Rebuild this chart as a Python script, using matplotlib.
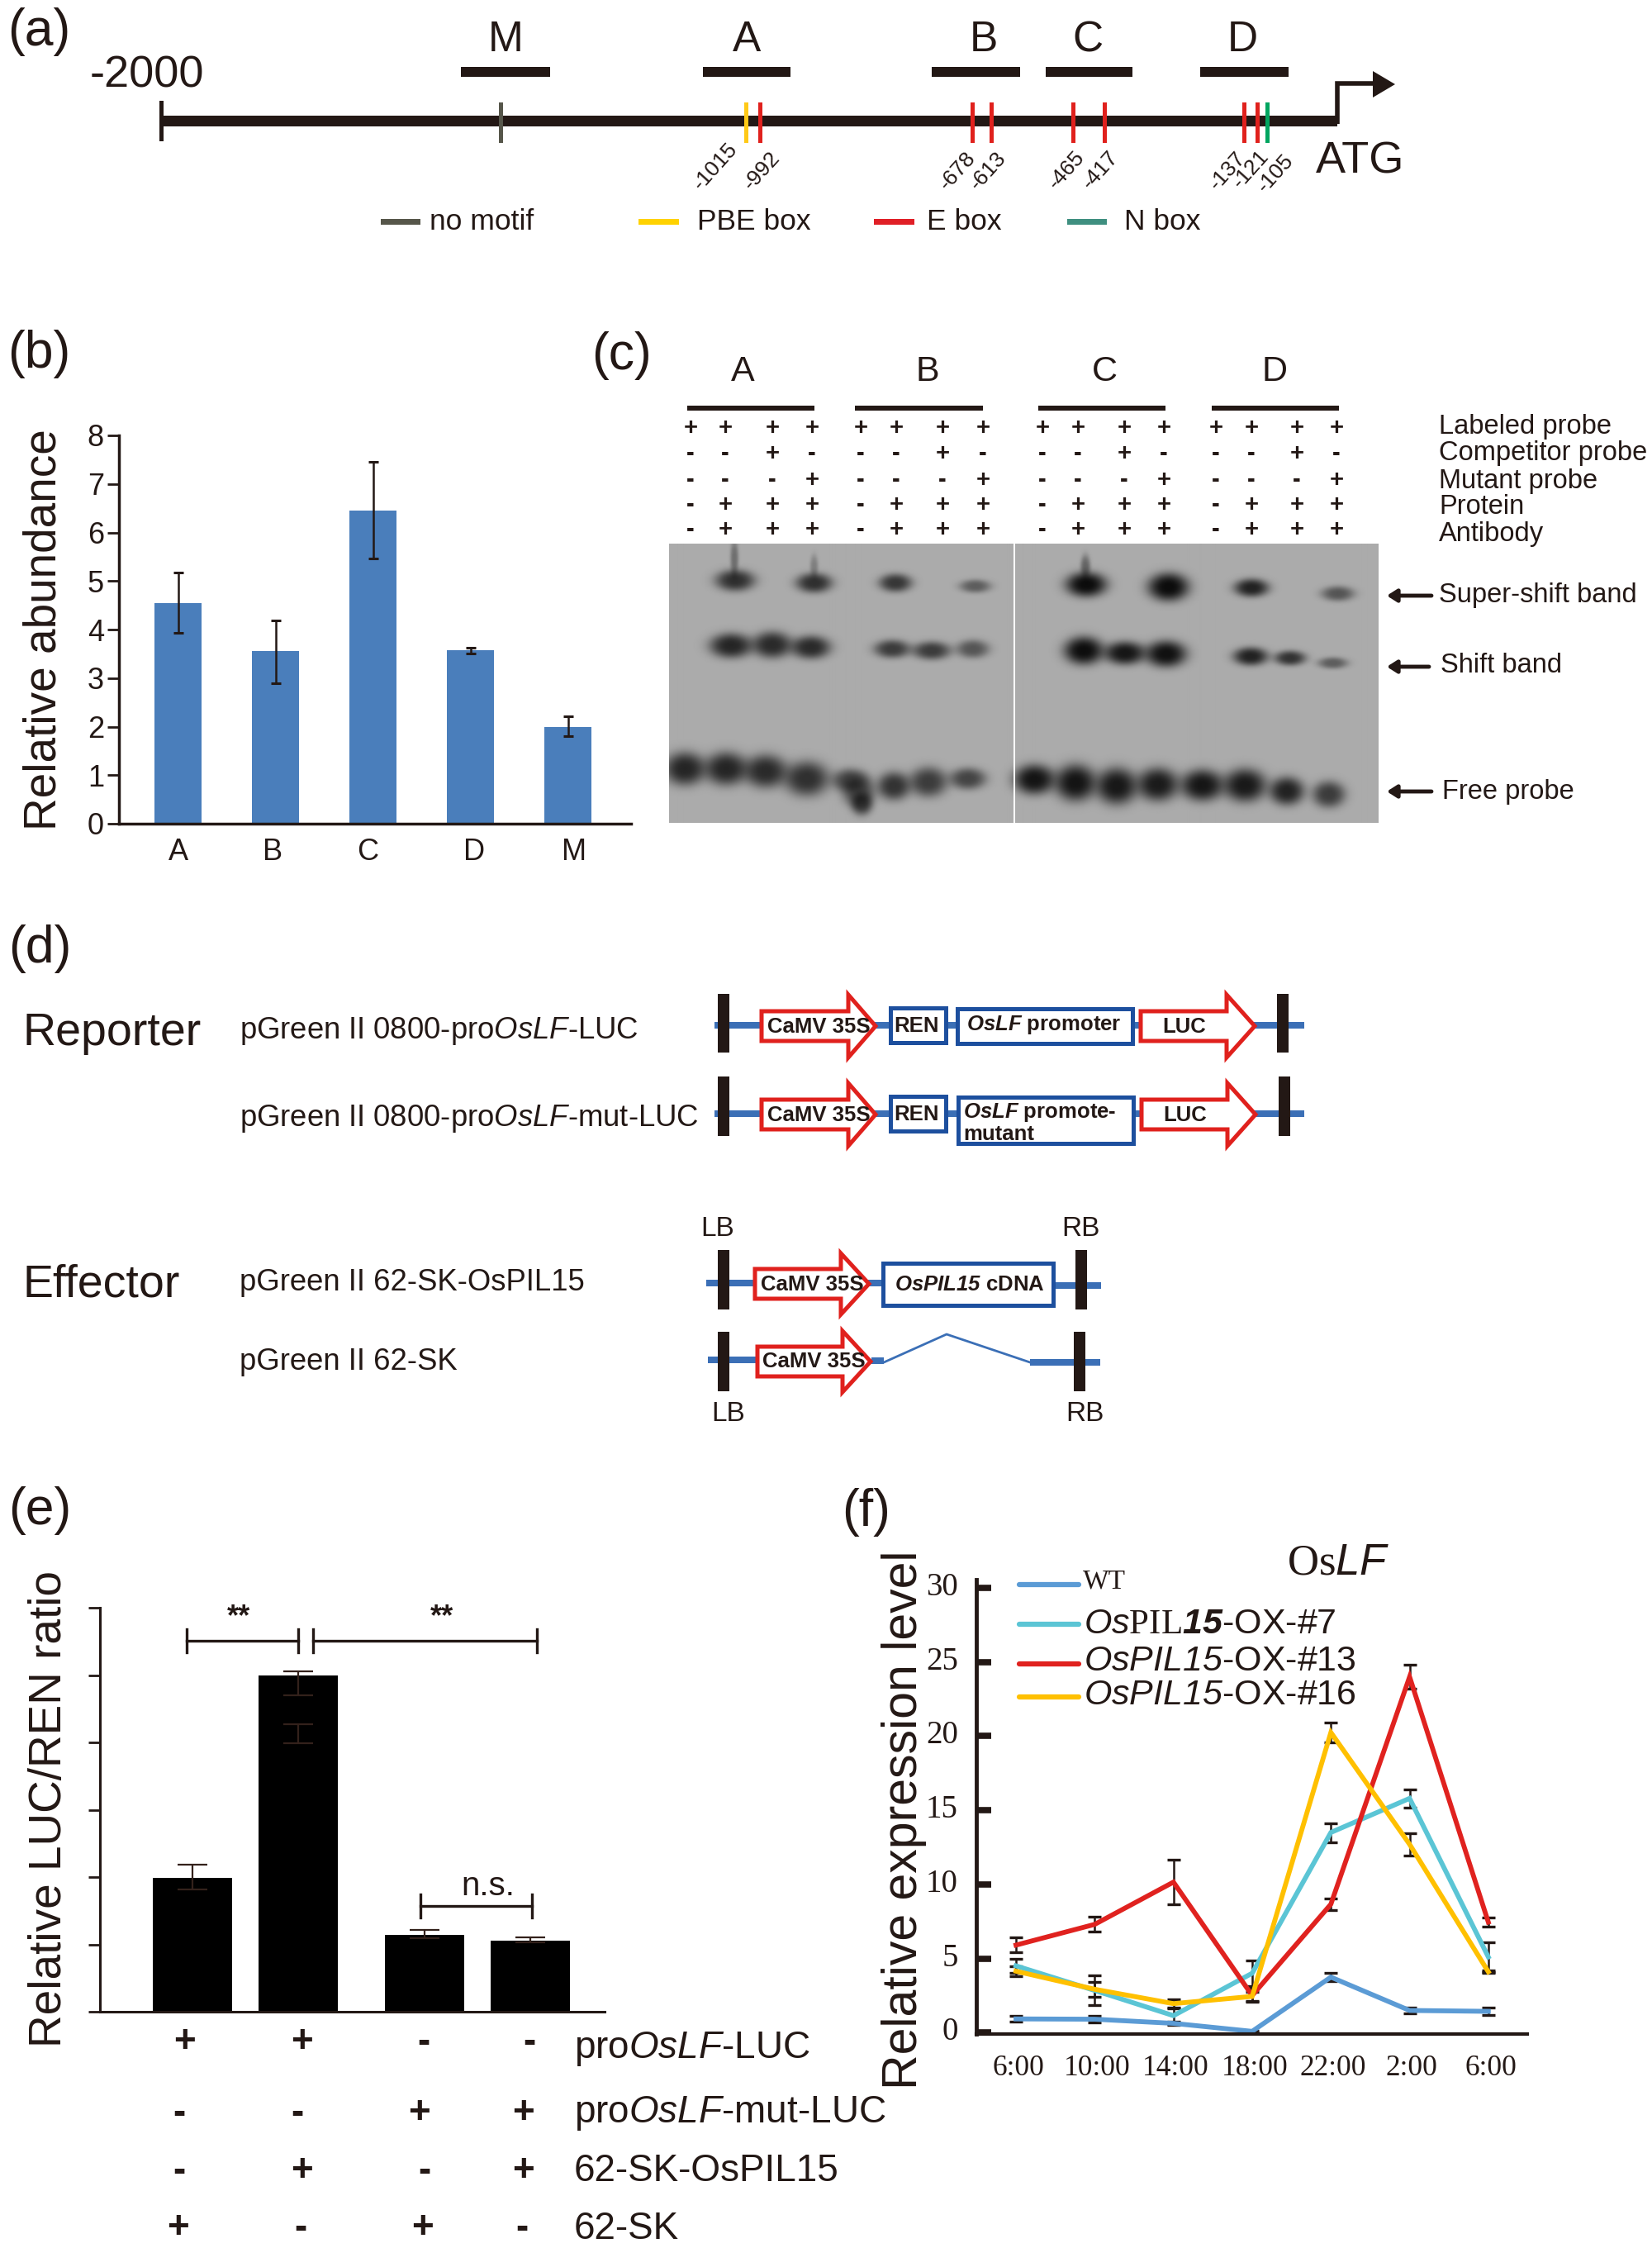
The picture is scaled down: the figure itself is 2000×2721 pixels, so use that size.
import numpy as np
import matplotlib
matplotlib.use('Agg')
import matplotlib.pyplot as plt
from matplotlib.patches import Rectangle, Polygon
from matplotlib.transforms import ScaledTranslation

plt.rcParams['font.family'] = ['Liberation Sans', 'DejaVu Sans']
plt.rcParams['mathtext.fontset'] = 'custom'
plt.rcParams['mathtext.rm'] = 'Liberation Sans'
plt.rcParams['mathtext.it'] = 'Liberation Sans:italic'
plt.rcParams['mathtext.bf'] = 'Liberation Sans:italic:bold'
plt.rcParams['mathtext.sf'] = 'Liberation Sans:italic'
plt.rcParams['mathtext.tt'] = 'Liberation Serif'

W, H = 2000, 2721
DARK = '#231815'
BLUE = '#3b6fb6'
FRAME_BLUE = '#1d4f9e'
RED = '#e0211d'

# (b) abundance
b_cats = ['A', 'B', 'C', 'D', 'M']
b_vals = [4.55, 3.55, 6.45, 3.57, 2.0]
b_err_low = [0.61, 0.65, 0.98, 0.06, 0.2]
b_err_high = [0.62, 0.64, 1.0, 0.06, 0.22]

# (e) LUC/REN
e_vals = [1.99, 5.0, 1.14, 1.05]
e_err_mid = [2.0, 4.88, 1.15, 1.07]
e_err = [0.19, 0.18, 0.06, 0.04]

# (f) expression time course
f_times = ['6:00', '10:00', '14:00', '18:00', '22:00', '2:00', '6:00']
f_wt = [0.92, 0.9, 0.62, 0.08, 3.74, 1.49, 1.43]
f_ox7 = [4.5, 2.84, 1.14, 4.0, 13.5, 15.8, 5.1]
f_ox13 = [5.9, 7.3, 10.15, 2.5, 8.66, 24.0, 7.45]
f_ox16 = [4.14, 2.92, 1.95, 2.44, 20.25, 12.7, 4.1]
f_wt_err = [0.2, 0.2, 0.1, 0.05, 0.3, 0.2, 0.25]
f_ox7_err = [0.5, 1.0, 0.55, 0.85, 0.64, 0.6, 1.0]
f_ox13_err = [0.5, 0.5, 1.5, 0.45, 0.4, 0.8, 0.3]
f_ox16_err = [0.35, 0.5, 0.3, 0.3, 0.65, 0.75, 0.1]

# (a) promoter map
a_fragments = ['M', 'A', 'B', 'C', 'D']
a_sites = ['-1015', '-992', '-678', '-613', '-465', '-417', '-137', '-121', '-105']
a_legend = ['no motif', 'PBE box', 'E box', 'N box']

# (c) gel: x, y, half width, half height, darkness
gel_bands = [
    (890, 702, 24, 13, 0.72), (889, 675, 5, 22, 0.35), (986, 705, 22, 12, 0.72), (986, 685, 5, 14, 0.25),
    (1085, 705, 20, 11, 0.68), (1182, 709, 19, 8, 0.45),
    (1317, 707, 25, 15, 0.93), (1316, 685, 6, 14, 0.4), (1417, 710, 25, 17, 0.93), (1518, 711, 21, 11, 0.8),
    (1623, 718, 20, 9, 0.5),
    (885, 781, 26, 15, 0.78), (935, 780, 24, 16, 0.75), (982, 783, 24, 14, 0.75),
    (1081, 785, 22, 11, 0.65), (1129, 787, 23, 11, 0.65), (1179, 785, 20, 11, 0.5),
    (1314, 787, 24, 17, 0.92), (1364, 790, 25, 14, 0.87), (1414, 791, 25, 16, 0.9),
    (1517, 794, 21, 11, 0.8), (1565, 796, 19, 9, 0.7), (1617, 802, 18, 7, 0.45),
    (829, 930, 25, 20, 0.78), (879, 930, 26, 20, 0.78), (927, 933, 26, 20, 0.75), (977, 942, 27, 21, 0.72),
    (1030, 944, 22, 14, 0.6), (1040, 958, 20, 18, 0.55), (1044, 972, 13, 14, 0.65), (1083, 951, 20, 17, 0.7),
    (1125, 946, 23, 18, 0.65), (1173, 942, 22, 13, 0.6),
    (1254, 943, 25, 18, 0.88), (1304, 947, 25, 22, 0.88), (1354, 951, 25, 22, 0.86), (1404, 949, 25, 20, 0.84),
    (1458, 950, 26, 19, 0.87), (1510, 950, 26, 20, 0.85), (1561, 957, 21, 17, 0.8), (1612, 961, 20, 16, 0.65),
]
gel_rows = ['Labeled probe', 'Competitor probe', 'Mutant probe', 'Protein', 'Antibody']
gel_signs = ['++++', '--+-', '---+', '-+++', '-+++']
e_rows = ['pro$\\mathit{OsLF}$-LUC', 'pro$\\mathit{OsLF}$-mut-LUC', '62-SK-OsPIL15', '62-SK']
e_signs = ['++--', '--++', '-+-+', '+-+-']


def px_axes(fig, x0, y0, x1, y1):
    # y0 top, y1 bottom, both in image pixels
    return fig.add_axes([x0 / W, 1 - y1 / H, (x1 - x0) / W, (y1 - y0) / H])


fig = plt.figure(figsize=(20, 27.21), dpi=100)

# ---- panel b
ax = px_axes(fig, 144, 527, 764, 997)
ax.bar(np.arange(5), b_vals, width=0.49, color='#4a7ebb')
ax.errorbar(np.arange(5), b_vals, yerr=[b_err_low, b_err_high], fmt='none', ecolor=DARK,
            elinewidth=1.8, capsize=4, capthick=2.2)
ax.set_xlim(-0.606, 4.648)
ax.set_ylim(0, 8)
ax.set_xticks([0, -0.03, -0.05, 0.04, 0.06] + np.arange(5), b_cats)
ax.set_yticks(range(9))
ax.tick_params(axis='x', length=0, labelsize=26, pad=12, labelcolor=DARK)
ax.tick_params(axis='y', length=10, width=2, labelsize=26, pad=3, labelcolor=DARK, color=DARK)
for s in ['top', 'right']:
    ax.spines[s].set_visible(False)
for s in ['left', 'bottom']:
    ax.spines[s].set_linewidth(2.5)
    ax.spines[s].set_color(DARK)
ax.patch.set_alpha(0)

# ---- panel e
e_pos = np.array([0, 1, 2.2, 3.2])
ax = px_axes(fig, 121, 1946, 732, 2435)
ax.bar(e_pos, e_vals, width=0.75, color='black')
ax.errorbar(e_pos, e_err_mid, yerr=e_err, fmt='none', ecolor='#33211b', elinewidth=1.6, capsize=13, capthick=1.6)
ax.errorbar([1], [4.13], yerr=[0.14], fmt='none', ecolor='#33211b', elinewidth=1.6, capsize=13, capthick=1.6)
ax.set_xlim(-0.875, 3.9)
ax.set_ylim(0, 6)
ax.set_xticks([])
ax.set_yticks(range(7))
ax.set_yticklabels([])
ax.tick_params(axis='y', length=10, width=2, color=DARK)
for s in ['top', 'right']:
    ax.spines[s].set_visible(False)
for s in ['left', 'bottom']:
    ax.spines[s].set_linewidth(2.2)
    ax.spines[s].set_color(DARK)
ax.patch.set_alpha(0)

# ---- panel f
ax = px_axes(fig, 1182, 1912, 1849, 2462)
x = np.arange(7)
series = [(f_wt, f_wt_err, '#5b9bd5'), (f_ox7, f_ox7_err, '#5bc5d5'),
          (f_ox13, f_ox13_err, '#e0221f'), (f_ox16, f_ox16_err, '#ffc000')]
for vals, err, col in series:
    ax.errorbar(x, vals, yerr=err, fmt='none', ecolor=DARK, elinewidth=1.8, capsize=6, capthick=2.4)
for vals, err, col in series:
    ax.plot(x, vals, color=col, lw=4.2, solid_joinstyle='miter')
ax.set_xlim(-0.504, 6.495)
ax.set_ylim(-0.1, 30.56)
ax.set_yticks(range(0, 31, 5))
ax.set_xticks(x + 0.03, f_times, family='Liberation Serif')
ax.set_yticklabels([str(v) for v in range(0, 31, 5)], family='Liberation Serif')
ax.tick_params(axis='x', length=0, labelsize=25.5, pad=18, labelcolor=DARK)
ax.tick_params(axis='y', direction='in', length=13, width=5.5, labelsize=28, pad=16, labelcolor=DARK, color=DARK)
for lab in ax.get_yticklabels():
    lab.set_transform(lab.get_transform() + ScaledTranslation(0, 5 / 100, fig.dpi_scale_trans))
for s in ['top', 'right']:
    ax.spines[s].set_visible(False)
ax.spines['left'].set_linewidth(3.5)
ax.spines['bottom'].set_linewidth(3)
ax.spines['left'].set_color(DARK)
ax.spines['bottom'].set_color(DARK)
ax.patch.set_alpha(0)

# ---- overlay in image pixels for diagrams and labels
ov = fig.add_axes([0, 0, 1, 1])
ov.set_xlim(0, W)
ov.set_ylim(H, 0)
ov.axis('off')
ov.patch.set_alpha(0)


def txt(x, y, s, size, ha='center', va='center', **kw):
    kw.setdefault('color', DARK)
    ov.text(x, y, s, fontsize=size, ha=ha, va=va, **kw)


def box(x0, y0, x1, y1, color=DARK):
    ov.add_patch(Rectangle((x0, y0), x1 - x0, y1 - y0, facecolor=color, edgecolor='none'))


def frame(x0, y0, x1, y1, color=FRAME_BLUE, lw=3.6):
    ov.add_patch(Rectangle((x0, y0), x1 - x0, y1 - y0, facecolor='white', edgecolor=color, lw=lw, zorder=3))


def red_arrow(x0, xh, x1, ym, body, head):
    pts = [(x0, ym - body), (xh, ym - body), (xh, ym - head), (x1, ym), (xh, ym + head), (xh, ym + body), (x0, ym + body)]
    ov.add_patch(Polygon(pts, closed=True, facecolor='white', edgecolor=RED, lw=3.6, zorder=3, joinstyle='miter'))


def left_arrow(x0, x1, y):
    ov.annotate('', xy=(x0, y), xytext=(x1, y),
                arrowprops=dict(arrowstyle='-|>,head_width=0.45,head_length=0.7', lw=3.5, color=DARK, shrinkA=0, shrinkB=0))


for lab, lx, ly in [('(a)', 47, 38), ('(b)', 47, 428), ('(c)', 752, 430), ('(d)', 48, 1148), ('(e)', 48, 1829), ('(f)', 1049, 1830)]:
    txt(lx, ly, lab, 45)

# ---- panel a
box(195, 140, 1619, 153)
box(193, 122, 198, 171)
ov.plot([1619, 1619, 1663], [150, 101, 101], color=DARK, lw=4, solid_joinstyle='miter', solid_capstyle='butt')
ov.add_patch(Polygon([(1662, 86), (1689, 102), (1662, 118)], closed=True, facecolor=DARK, edgecolor='none'))
txt(178, 91, '-2000', 39)
txt(1647, 196, 'ATG', 39)
frag_x = [(558, 666), (851, 957), (1128, 1235), (1266, 1371), (1453, 1560)]
frag_lab = [612, 904, 1191, 1317, 1504]
for name, (x0, x1), lx in zip(a_fragments, frag_x, frag_lab):
    box(x0, 81, x1, 93)
    txt(lx, 49, name, 37)
site_x = [(606, '#56564a'), (903, '#ffc917'), (920, RED), (1177, RED), (1200, RED), (1299, RED), (1337, RED),
          (1506, RED), (1522, RED), (1534, '#00a560')]
for sx, col in site_x:
    box(sx - 2.5, 124, sx + 2.5, 173, col)
site_lab = [(866, 201), (922, 207), (1159, 207), (1196, 207), (1291, 206), (1332, 206), (1486, 207), (1514, 205), (1544, 210)]
for name, (lx, ly) in zip(a_sites, site_lab):
    txt(lx, ly, name, 19, rotation=48)
leg_x = [(461, 509, 520, '#56564a'), (773, 822, 844, '#ffd200'), (1058, 1107, 1122, '#e01f26'), (1292, 1340, 1361, '#3f8f80')]
for name, (x0, x1, tx, col) in zip(a_legend, leg_x):
    box(x0, 265, x1, 272, col)
    txt(tx, 269, name, 25.5, ha='left')

# ---- panel b, c labels
txt(54, 762, 'Relative abundance', 39.5, rotation=90)
for name, x0, x1, lx in [('A', 832, 986, 899), ('B', 1035, 1190, 1123), ('C', 1257, 1411, 1337), ('D', 1467, 1621, 1543)]:
    box(x0, 491, x1, 497)
    txt(lx, 450, name, 31)
lanes = [836, 878, 935, 983, 1042, 1085, 1141, 1190, 1262, 1305, 1361, 1409, 1472, 1515, 1570, 1618]
row_y = [518, 549, 581, 611, 641]
for sign, ry in zip(gel_signs, row_y):
    for i, lx in enumerate(lanes):
        txt(lx, ry, sign[i % 4], 21, fontweight='bold')
for name, ty in zip(gel_rows, [517, 549, 583, 614, 647]):
    txt(1742, ty, name, 23.5, ha='left')

xg = np.arange(810, 1673)
yg = np.arange(658, 996)
X, Y = np.meshgrid(xg, yg)
gel = np.ones_like(X, dtype=float)
for bx, by, rx, ry, d in gel_bands:
    r2 = ((X - bx) / rx) ** 2 + ((Y - by) / ry) ** 2
    gel *= 1 - d * np.exp(-r2 ** 1.5)
ov.imshow(gel * 171, cmap='gray', vmin=0, vmax=255, extent=(809.5, 1668, 996, 658), aspect='auto', interpolation='bilinear')
ov.set_xlim(0, W)
ov.set_ylim(H, 0)
box(1226.5, 658, 1228.5, 996, 'white')

left_arrow(1679, 1733, 721)
left_arrow(1679, 1730, 807)
left_arrow(1679, 1733, 958)
txt(1742, 721, 'Super-shift band', 23.5, ha='left')
txt(1744, 805, 'Shift band', 23.5, ha='left')
txt(1746, 959, 'Free probe', 23.5, ha='left')

# ---- panel d
txt(28, 1251, 'Reporter', 40, ha='left')
txt(28, 1555, 'Effector', 40, ha='left')
plasmids = [('pGreen II 0800-pro$\\mathit{OsLF}$-LUC', 1248), ('pGreen II 0800-pro$\\mathit{OsLF}$-mut-LUC', 1354),
            ('pGreen II 62-SK-OsPIL15', 1552), ('pGreen II 62-SK', 1649)]
for name, ty in plasmids:
    txt(290, ty, name, 26.3, ha='left')

for ym, top, bot, rb, luc_x in [(1241, 1203, 1274, 1553, 1381), (1348, 1303, 1375, 1555, 1382)]:
    box(865, ym - 4, 1579, ym + 4, BLUE)
    box(869, top, 883, bot)
    box(rb - 7, top, rb + 7, bot)
    red_arrow(922, 1027, 1060, ym + 1, 18, 38)
    red_arrow(luc_x, luc_x + 104, luc_x + 138, ym + 1, 18, 38)
    txt(991, ym + 2, 'CaMV 35S', 18.5, fontweight='bold', zorder=5)
    txt(1110, ym + 1, 'REN', 18.5, fontweight='bold', zorder=5)
    txt(luc_x + 53, ym + 2, 'LUC', 18.5, fontweight='bold', zorder=5)
frame(1078, 1220, 1145, 1262)
frame(1159, 1221, 1371, 1263)
txt(1264, 1240, '$\\mathbf{OsLF}$ promoter', 18.5, fontweight='bold', zorder=5)
frame(1078, 1327, 1145, 1369)
frame(1160, 1328, 1372, 1384)
txt(1166, 1346, '$\\mathbf{OsLF}$ promote-', 18.5, ha='left', fontweight='bold', zorder=5)
txt(1166, 1373, 'mutant', 18.5, ha='left', fontweight='bold', zorder=5)

box(855, 1549, 1069, 1557, BLUE)
box(1275, 1552, 1333, 1560, BLUE)
box(869, 1513, 883, 1585)
box(1302, 1513, 1316, 1585)
red_arrow(914, 1018, 1052, 1554, 18, 37)
frame(1069, 1529, 1275, 1580)
txt(983, 1555, 'CaMV 35S', 18.5, fontweight='bold', zorder=5)
txt(1174, 1555, '$\\mathbf{OsPIL15}$ cDNA', 18.5, fontweight='bold', zorder=5)

box(857, 1642, 917, 1650, BLUE)
box(1055, 1643, 1070, 1651, BLUE)
box(1247, 1645, 1332, 1653, BLUE)
ov.plot([1070, 1146, 1247], [1649, 1615, 1649], color=BLUE, lw=2)
box(869, 1612, 883, 1684)
box(1300, 1612, 1314, 1684)
red_arrow(917, 1020, 1054, 1648, 18, 37)
txt(985, 1648, 'CaMV 35S', 18.5, fontweight='bold', zorder=5)
for name, lx, ly in [('LB', 869, 1488), ('RB', 1308, 1487), ('LB', 882, 1712), ('RB', 1313, 1712)]:
    txt(lx, ly, name, 24)

# ---- panel e labels
txt(60, 2190, 'Relative LUC/REN ratio', 39.5, rotation=90)
for x0, x1, yb, half in [(226, 361, 1986, 14), (379, 650, 1986, 14), (509, 644, 2307, 14)]:
    ov.plot([x0, x1], [yb, yb], color=DARK, lw=2.4)
    ov.plot([x0, x0], [yb - half, yb + half], color=DARK, lw=2.4)
    ov.plot([x1, x1], [yb - half, yb + half], color=DARK, lw=2.4)
txt(289, 1958, '**', 26, fontweight='bold')
txt(535, 1958, '**', 26, fontweight='bold')
txt(591, 2283, 'n.s.', 29)
e_sign_x = [(223, 365, 513, 641), (217, 360, 508, 634), (217, 366, 514, 634), (215, 364, 512, 632)]
e_row_y = [2472, 2558, 2628, 2697]
e_label_y = [2480, 2558, 2628, 2698]
for name, sign, xs, ry, ly in zip(e_rows, e_signs, e_sign_x, e_row_y, e_label_y):
    for sx, ch in zip(xs, sign):
        txt(sx, ry, ch, 33, fontweight='bold')
    txt(695, ly, name, 33, ha='left')

# ---- panel f labels
txt(1094, 2203, 'Relative expression level', 42.5, rotation=90)
txt(1620, 1891, '$\\mathtt{Os}\\mathit{LF}$', 38)
f_leg = [('WT', 1918, '#5b9bd5', 1914), ('$\\mathit{Os}\\mathtt{PIL}\\mathbf{15}$-OX-#7', 1966, '#5bc5d5', 1966),
         ('$\\mathit{OsPIL}\\mathsf{15}$-OX-#13', 2014, '#e0221f', 2011), ('$\\mathit{OsPIL}\\mathsf{15}$-OX-#16', 2054, '#ffc000', 2052)]
for name, ly, col, ty in f_leg:
    ov.plot([1234, 1306], [ly, ly], color=col, lw=4.5, solid_capstyle='round')
    if name == 'WT':
        txt(1311, ty, name, 24, ha='left', family='Liberation Serif')
    else:
        txt(1312, ty, name, 31, ha='left')

fig.savefig('out.png', dpi=100)
